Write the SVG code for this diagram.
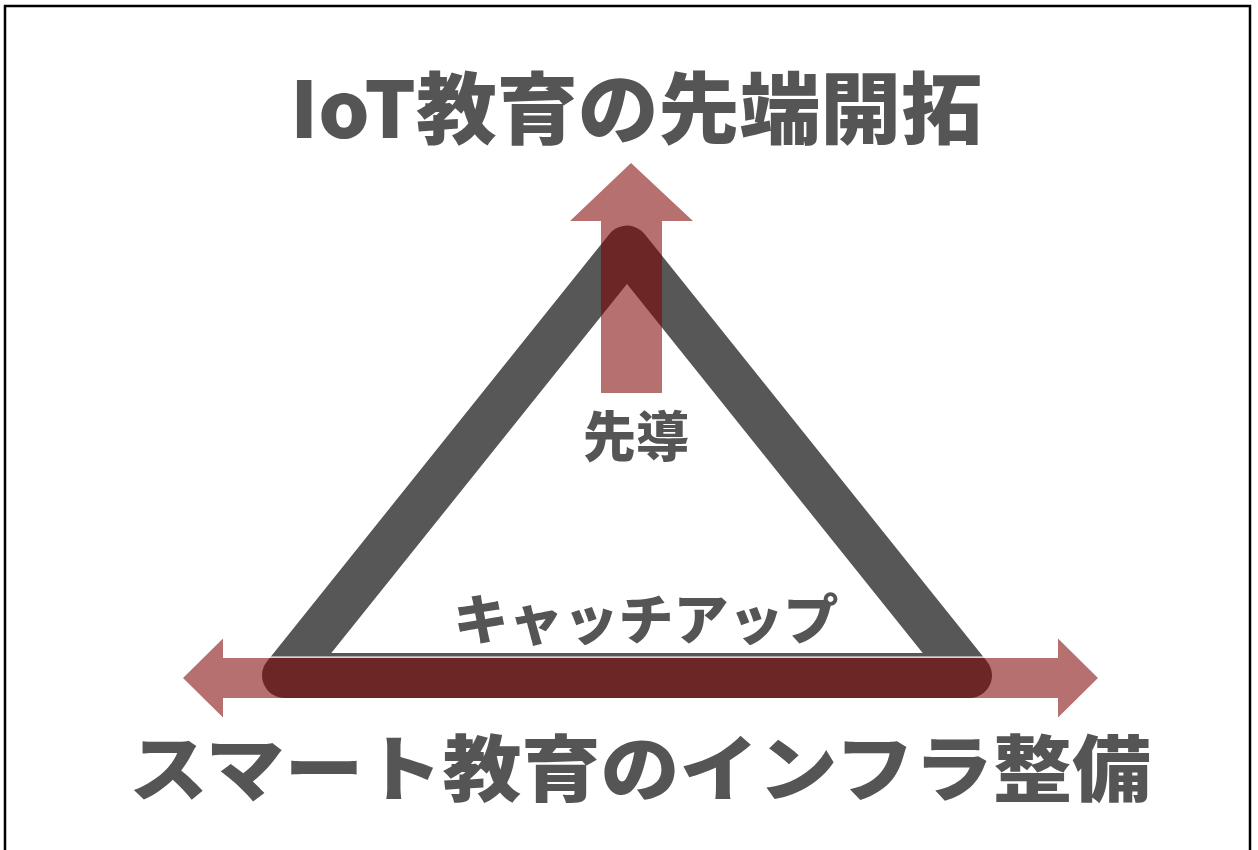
<svg xmlns="http://www.w3.org/2000/svg" width="1258" height="850" viewBox="0 0 1258 850">
  <style>
    .t { font-family: "Noto Sans CJK JP", "Noto Sans", sans-serif; font-weight: 900; fill: #555555; text-anchor: middle; }
    .arrow { fill: #7f0000; fill-opacity: 0.56; }
  </style>
  <rect x="0" y="0" width="1258" height="850" fill="#ffffff"/>
  <rect id="frame" x="5" y="6" width="1245" height="900" fill="none" stroke="#000000" stroke-width="2.5"/>

  <g id="triangle">
    <path d="M627,248 L969.5,675.5 L284.5,675.5 Z" fill="none" stroke="#575757" stroke-width="45" stroke-linejoin="round"/>
  </g>

  <g id="connectors">
    <polygon id="arrow-up" class="arrow" points="631,163 693,221 662,221 662,393 601,393 601,221 570,221"/>
    <polygon id="arrow-horizontal" class="arrow" points="183,678 223,638.5 223,658 1058,658 1058,638.5 1098,678 1058,717.5 1058,698 223,698 223,717.5"/>
    <line x1="262" y1="657.2" x2="992" y2="657.2" stroke="#ffffff" stroke-width="1.2"/>
  </g>

  <g id="title-top">
    <text class="t" x="636" y="138" font-size="78" textLength="692" lengthAdjust="spacingAndGlyphs">IoT教育の先端開拓</text>
  </g>
  <g id="label-sendou">
    <text class="t" x="636" y="457" font-size="54" textLength="106" lengthAdjust="spacingAndGlyphs">先導</text>
  </g>
  <g id="label-catchup">
    <text class="t" x="646" y="640" font-size="54" textLength="385" lengthAdjust="spacingAndGlyphs">キャッチアップ</text>
  </g>
  <g id="title-bottom">
    <text class="t" x="640" y="795" font-size="72" textLength="1022" lengthAdjust="spacingAndGlyphs">スマート教育のインフラ整備</text>
  </g>
</svg>
